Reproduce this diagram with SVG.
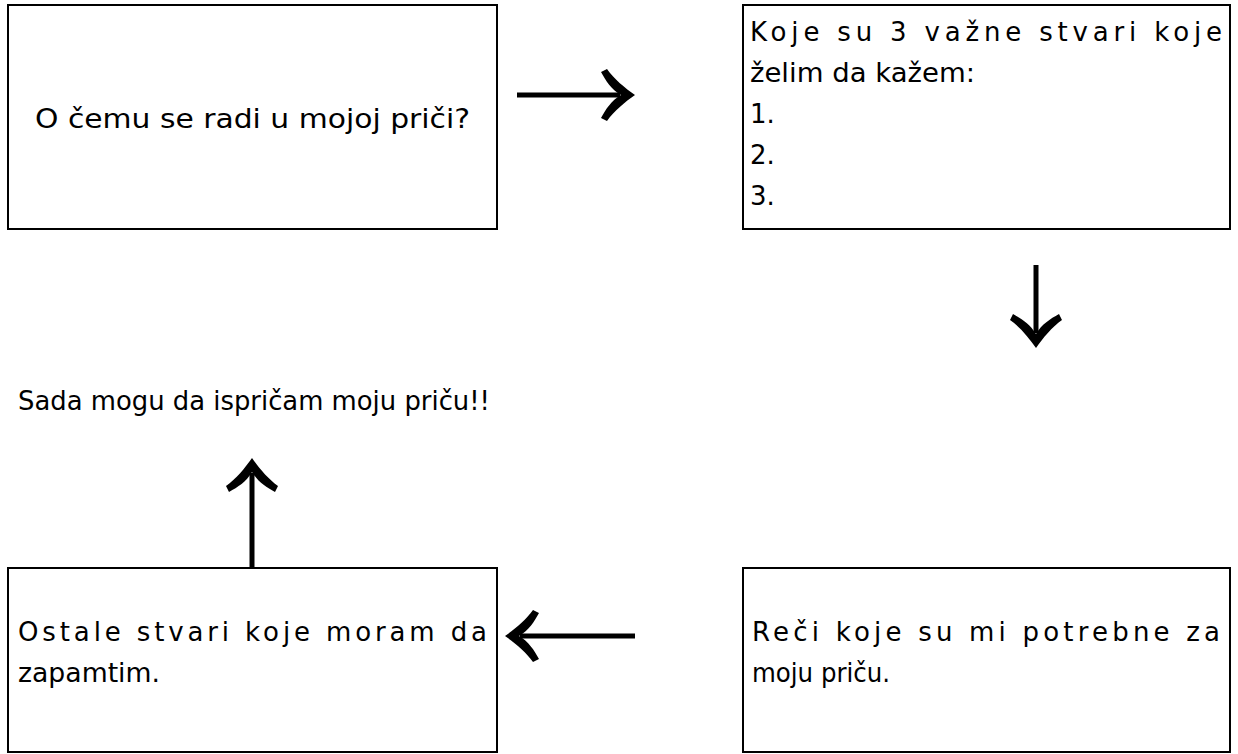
<svg xmlns="http://www.w3.org/2000/svg" width="1238" height="754" viewBox="0 0 1238 754">
  <style>
    .box { fill: #ffffff; stroke: #000000; stroke-width: 2; }
    .t { font-family: "DejaVu Sans", "Liberation Sans", sans-serif; font-size: 26px; fill: #000000; }
    .conn { stroke: #000000; stroke-width: 5; fill: none; marker-end: url(#head); }
  </style>
  <defs>
    <marker id="head" markerUnits="userSpaceOnUse" viewBox="-40 -30 44 60" markerWidth="44" markerHeight="60" refX="-15" refY="0" orient="auto">
      <path d="M0,0 C-10,-7 -21,-16 -28,-26 L-34,-23 C-29,-14 -24,-6 -14,0 C-24,6 -29,14 -34,23 L-28,26 C-21,16 -10,7 0,0 Z" fill="#000000"/>
    </marker>
  </defs>
  <rect width="1238" height="754" fill="#ffffff"/>

  <g id="connectors">
    <line class="conn" x1="517" y1="95" x2="620" y2="95"/>
    <line class="conn" x1="1036" y1="265" x2="1036" y2="333"/>
    <line class="conn" x1="635" y1="636" x2="520" y2="636"/>
    <line class="conn" x1="252" y1="568" x2="252" y2="473"/>
  </g>

  <g id="node-story">
    <rect class="box" x="8" y="5" width="489" height="224"/>
    <text class="t" x="35" y="128" textLength="435" lengthAdjust="spacingAndGlyphs">O čemu se radi u mojoj priči?</text>
  </g>

  <g id="node-three-things">
    <rect class="box" x="743" y="5" width="487" height="224"/>
    <text class="t" x="750" y="41" textLength="472" lengthAdjust="spacing">Koje su 3 važne stvari koje</text>
    <text class="t" x="750" y="82" textLength="225" lengthAdjust="spacingAndGlyphs">želim da kažem:</text>
    <text class="t" x="750" y="123">1.</text>
    <text class="t" x="750" y="164">2.</text>
    <text class="t" x="750" y="205">3.</text>
  </g>

  <g id="node-words">
    <rect class="box" x="743" y="568" width="487" height="184"/>
    <text class="t" x="752" y="641" textLength="468" lengthAdjust="spacing">Reči koje su mi potrebne za</text>
    <text class="t" x="752" y="682" textLength="138" lengthAdjust="spacingAndGlyphs">moju priču.</text>
  </g>

  <g id="node-other">
    <rect class="box" x="8" y="568" width="489" height="184"/>
    <text class="t" x="18" y="641" textLength="469" lengthAdjust="spacing">Ostale stvari koje moram da</text>
    <text class="t" x="18" y="682" textLength="142" lengthAdjust="spacingAndGlyphs">zapamtim.</text>
  </g>

  <g id="node-tell">
    <text class="t" x="18" y="410" textLength="472" lengthAdjust="spacingAndGlyphs">Sada mogu da ispričam moju priču!!</text>
  </g>
</svg>
